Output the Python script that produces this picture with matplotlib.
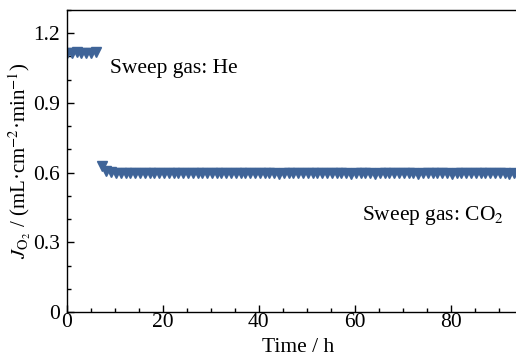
import matplotlib
matplotlib.use("Agg")
import matplotlib.pyplot as plt
from matplotlib.ticker import MultipleLocator

plt.rcParams['font.family'] = ['Liberation Serif', 'DejaVu Serif']
plt.rcParams['mathtext.fontset'] = 'stix'

# sweep gas He
t_he = [0, 1, 2, 3, 4, 5, 6]
j_he = [1.117, 1.116, 1.118, 1.115, 1.117, 1.116, 1.118]

# sweep gas CO2
t_co2 = [7.2, 8.2, 9.2, 10.2, 11.2, 12.2, 13.2, 14.2, 15.2, 16.2,
         17.2, 18.2, 19.2, 20.2, 21.2, 22.2, 23.2, 24.2, 25.2, 26.2,
         27.2, 28.2, 29.2, 30.2, 31.2, 32.2, 33.2, 34.2, 35.2, 36.2,
         37.2, 38.2, 39.2, 40.2, 41.2, 42.2, 43.2, 44.2, 45.2, 46.2,
         47.2, 48.2, 49.2, 50.2, 51.2, 52.2, 53.2, 54.2, 55.2, 56.2,
         57.2, 58.2, 59.2, 60.2, 61.2, 62.2, 63.2, 64.2, 65.2, 66.2,
         67.2, 68.2, 69.2, 70.2, 71.2, 72.2, 73.2, 74.2, 75.2, 76.2,
         77.2, 78.2, 79.2, 80.2, 81.2, 82.2, 83.2, 84.2, 85.2, 86.2,
         87.2, 88.2, 89.2, 90.2, 91.2, 92.2, 93.2]
j_co2 = [0.630, 0.609, 0.602, 0.600, 0.599, 0.598, 0.599, 0.597, 0.598, 0.597,
         0.597, 0.598, 0.597, 0.598, 0.599, 0.598, 0.599, 0.600, 0.599, 0.598,
         0.598, 0.599, 0.600, 0.598, 0.597, 0.598, 0.599, 0.598, 0.597, 0.598,
         0.599, 0.598, 0.597, 0.597, 0.598, 0.598, 0.597, 0.596, 0.597, 0.598,
         0.599, 0.598, 0.599, 0.600, 0.599, 0.598, 0.599, 0.599, 0.598, 0.597,
         0.598, 0.597, 0.596, 0.597, 0.598, 0.597, 0.597, 0.596, 0.597, 0.598,
         0.597, 0.598, 0.599, 0.598, 0.597, 0.597, 0.596, 0.597, 0.598, 0.597,
         0.597, 0.598, 0.597, 0.596, 0.597, 0.598, 0.599, 0.598, 0.597, 0.598,
         0.597, 0.598, 0.599, 0.598, 0.597, 0.596, 0.597]

color = '#3f6498'
fs = 15.5

fig = plt.figure(figsize=(5.16, 3.61), dpi=100)
ax = fig.add_axes([67/516, 49/361, 463/516, 302/361])

ax.plot(t_he, j_he, linestyle='none', marker='v', ms=7, color=color, mec=color)
ax.plot(t_co2, j_co2, linestyle='none', marker='v', ms=7, color=color, mec=color)

ax.set_xlim(0, 96.5)
ax.set_ylim(0, 1.3)
ax.xaxis.set_major_locator(MultipleLocator(20))
ax.xaxis.set_minor_locator(MultipleLocator(5))
ax.set_yticks([0, 0.3, 0.6, 0.9, 1.2])
ax.set_yticklabels(['0', '0.3', '0.6', '0.9', '1.2'])
ax.yaxis.set_minor_locator(MultipleLocator(0.1))
ax.tick_params(which='both', direction='in', labelsize=fs, width=1)
ax.tick_params(which='major', length=5)
ax.tick_params(which='minor', length=3)
ax.tick_params(axis='x', which='major', pad=1)
ax.tick_params(axis='y', which='major', pad=5)
for s in ax.spines.values():
    s.set_linewidth(1.0)

ax.set_xlabel('Time / h', fontsize=fs, labelpad=4)
ax.set_ylabel(r'$J_{\mathrm{O_2}}$ / (mL·cm$^{-2}$·min$^{-1}$)', fontsize=15, labelpad=0)

ax.text(9.0, 1.05, 'Sweep gas: He', fontsize=fs, va='center')
ax.text(61.5, 0.415, r'Sweep gas: CO$_2$', fontsize=fs, va='center')

fig.savefig('out.png', dpi=100)
